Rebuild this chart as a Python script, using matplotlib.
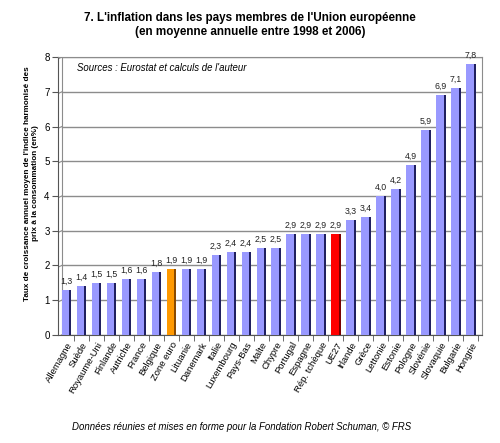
import numpy as np
import matplotlib.pyplot as plt

plt.rcParams['font.family'] = ['Liberation Sans', 'DejaVu Sans']

pays = ["Allemagne", "Suède", "Royaume-Uni", "Finlande", "Autriche", "France",
        "Belgique", "Zone euro", "Lituanie", "Danemark", "Italie", "Luxembourg",
        "Pays-Bas", "Malte", "Chypre", "Portugal", "Espagne", "Rép. tchèque",
        "UE27", "Irlande", "Grèce", "Lettonie", "Estonie", "Pologne", "Slovénie",
        "Slovaquie", "Bulgarie", "Hongrie"]
inflation = [1.3, 1.4, 1.5, 1.5, 1.6, 1.6, 1.8, 1.9, 1.9, 1.9, 2.3, 2.4,
             2.4, 2.5, 2.5, 2.9, 2.9, 2.9, 2.9, 3.3, 3.4, 4.0, 4.2, 4.9, 5.9,
             6.9, 7.1, 7.8]
etiquettes = ["1,3", "1,4", "1,5", "1,5", "1,6", "1,6", "1,8", "1,9", "1,9", "1,9",
              "2,3", "2,4", "2,4", "2,5", "2,5", "2,9", "2,9", "2,9", "2,9", "3,3",
              "3,4", "4,0", "4,2", "4,9", "5,9", "6,9", "7,1", "7,8"]

faces = []
cotes = []
for p in pays:
    if p == "Zone euro":
        faces.append("#ff9900"); cotes.append("#8a4a00")
    elif p == "UE27":
        faces.append("#ff0000"); cotes.append("#7a0000")
    else:
        faces.append("#9999ff"); cotes.append("#202060")

fig = plt.figure(figsize=(5, 4.43), dpi=100)
ax = fig.add_axes([0.116, 0.244, 0.848, 0.627])

x = np.arange(len(pays))
ax.set_xlim(-0.55, 27.75)
ax.set_ylim(0, 8)

# grille sur le mur du fond (effet 3D)
d = 0.25
for g in range(0, 9):
    ax.plot([-0.55 + d, 27.75], [g, g], color="#8c8c8c", lw=1.0, zorder=1)
    ax.plot([-0.55, -0.55 + d], [g - 0.05, g], color="#8c8c8c", lw=0.8, zorder=1)
ax.plot([-0.55 + d, -0.55 + d], [0, 8], color="#8c8c8c", lw=0.8, zorder=1)

# barres : face + côté sombre
ax.bar(x - 0.05, inflation, width=0.5, color=faces, zorder=3)
ax.bar(x + 0.27, inflation, width=0.15, color=cotes, zorder=3)

for xi, v, t in zip(x, inflation, etiquettes):
    ax.text(xi, v + 0.12, t, ha="center", va="bottom", fontsize=6.3, color="#222222")

for s in ["top", "right"]:
    ax.spines[s].set_color("#8c8c8c")
ax.spines["left"].set_color("#555555")
ax.spines["bottom"].set_color("#555555")

ax.set_yticks(range(0, 9))
ax.tick_params(axis="y", labelsize=7, length=4, color="#555555", pad=2)
ax.set_xticks(x)
ax.set_xticklabels(pays, rotation=60, ha="right", rotation_mode="anchor", fontsize=6.8)
ax.tick_params(axis="x", length=0, pad=4)
ax.set_xticks(x + 0.5, minor=True)
ax.tick_params(axis="x", which="minor", length=4, color="#555555")

ax.set_ylabel("Taux de croissance annuel moyen de l'indice harmonisé des\nprix à la consommation (en%)",
              fontsize=5.9, fontweight="bold")
ax.yaxis.set_label_coords(-0.045, 0.545)

ax.text(0.7, 7.7, "Sources : Eurostat et calculs de l'auteur", fontsize=6.9,
        style="italic", va="center")

fig.text(0.5, 0.972, "7. L'inflation dans les pays membres de l'Union européenne\n(en moyenne annuelle entre 1998 et 2006)",
         ha="center", va="top", fontsize=8.4, fontweight="bold", linespacing=1.15)
fig.text(0.144, 0.036, "Données réunies et mises en forme pour la Fondation Robert Schuman, © FRS",
         fontsize=6.9, style="italic", va="center")

fig.savefig("out.png", dpi=100)
